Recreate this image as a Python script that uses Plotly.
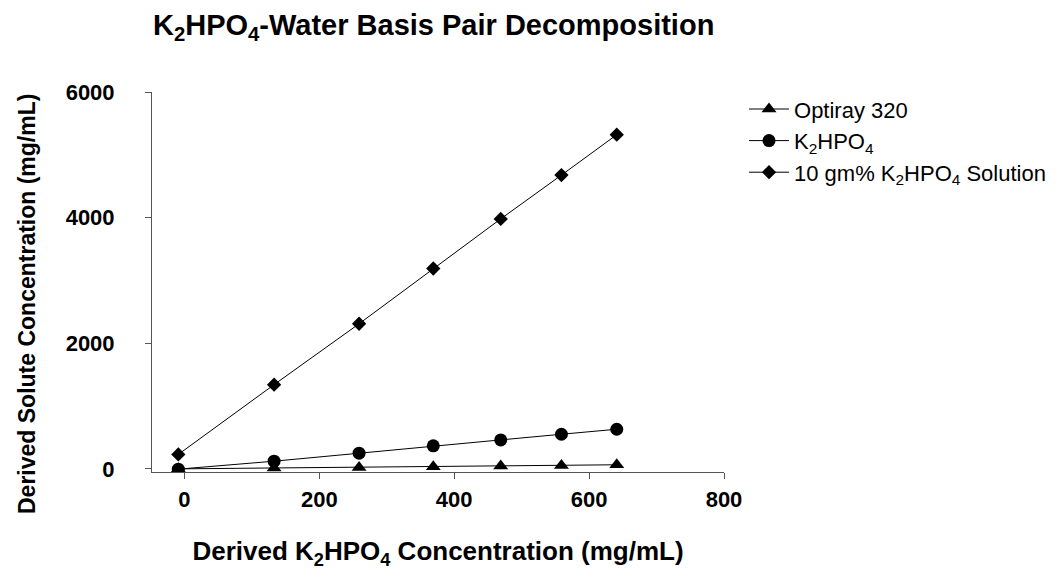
import plotly.graph_objects as go

x_conc = [-9, 133, 259, 369, 469, 559, 641]
optiray = [0, 12, 22, 32, 45, 55, 65]
k2hpo4 = [-5, 122, 249, 366, 461, 551, 631]
solution = [230, 1341, 2310, 3190, 3980, 4677, 5320]

series_names = ["Optiray 320", "K<sub>2</sub>HPO<sub>4</sub>", "10 gm% K<sub>2</sub>HPO<sub>4</sub> Solution"]
x_ticks = [0, 200, 400, 600, 800]
y_ticks = [0, 2000, 4000, 6000]

FONT = "Arial, Liberation Sans, sans-serif"
W, H = 1057, 573
L, R, T, B = 144, 341, 84, 109

fig = go.Figure()
fig.add_trace(go.Scatter(x=x_conc, y=optiray, name=series_names[0], mode="lines+markers",
                         line=dict(color="black", width=1),
                         marker=dict(symbol="triangle-up", size=13, color="black")))
fig.add_trace(go.Scatter(x=x_conc, y=k2hpo4, name=series_names[1], mode="lines+markers",
                         line=dict(color="black", width=1),
                         marker=dict(symbol="circle", size=13, color="black")))
fig.add_trace(go.Scatter(x=x_conc, y=solution, name=series_names[2], mode="lines+markers",
                         line=dict(color="black", width=1),
                         marker=dict(symbol="diamond", size=11, color="black")))

pw = W - L - R
ph = H - T - B

fig.update_layout(
    width=W, height=H,
    paper_bgcolor="white", plot_bgcolor="white",
    margin=dict(l=L, r=R, t=T, b=B, autoexpand=False),
    font=dict(family=FONT, color="black"),
    title=dict(text="<b>K<sub>2</sub>HPO<sub>4</sub>-Water Basis Pair Decomposition</b>",
               x=145/W, xanchor="left", y=1-17/H, yanchor="middle",
               font=dict(size=29, family=FONT, color="black")),
    legend=dict(x=1.035, xanchor="left", y=1.01, yanchor="top",
                font=dict(size=22, family=FONT, color="black"),
                bgcolor="rgba(0,0,0,0)", itemwidth=40, tracegroupgap=0),
    showlegend=True,
    annotations=[
        dict(text="<b>Derived Solute Concentration (mg/mL)</b>", textangle=-90,
             xref="paper", yref="paper", x=(19 - L) / pw, y=(H - B - 296) / ph,
             xanchor="center", yanchor="middle", showarrow=False,
             font=dict(size=23, family=FONT, color="black")),
    ],
)
fig.update_xaxes(range=[-48, 800], tickvals=x_ticks, ticks="outside", ticklen=6,
                 tickcolor="#555", showline=True, linecolor="#555", linewidth=1,
                 showgrid=False, zeroline=False, automargin=False,
                 tickfont=dict(size=22, family=FONT, color="black", weight="bold"),
                 ticklabelstandoff=2,
                 title=dict(text="<b>Derived K<sub>2</sub>HPO<sub>4</sub> Concentration (mg/mL)</b>",
                            font=dict(size=26, family=FONT, color="black"), standoff=30))
fig.update_yaxes(range=[-50, 6000], tickvals=y_ticks, ticks="outside", ticklen=6,
                 tickcolor="#555", showline=True, linecolor="#555", linewidth=1,
                 showgrid=False, zeroline=False, automargin=False,
                 tickfont=dict(size=22, family=FONT, color="black", weight="bold"),
                 ticklabelstandoff=26)

fig.write_html("out.html")
